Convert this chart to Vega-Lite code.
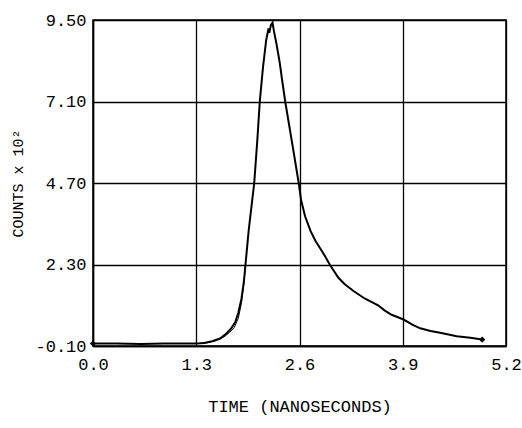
{
  "$schema": "https://vega.github.io/schema/vega-lite/v6.json",
  "autosize": "none",
  "width": 413,
  "height": 326,
  "padding": {"left": 93, "top": 20, "right": 16, "bottom": 82},
  "background": "white",
  "config": {
    "view": {"stroke": "black", "strokeWidth": 1.5},
    "font": "Liberation Mono"
  },
  "data": {
    "values": [
      {"s": "data", "t": 0.0, "v": -0.03, "m": 1},
      {"s": "data", "t": 0.3, "v": -0.03, "m": 0},
      {"s": "data", "t": 0.6, "v": -0.04, "m": 0},
      {"s": "data", "t": 0.9, "v": -0.03, "m": 0},
      {"s": "data", "t": 1.2, "v": -0.03, "m": 0},
      {"s": "data", "t": 1.3, "v": -0.03, "m": 0},
      {"s": "data", "t": 1.4, "v": -0.01, "m": 0},
      {"s": "data", "t": 1.5, "v": 0.04, "m": 0},
      {"s": "data", "t": 1.6, "v": 0.12, "m": 0},
      {"s": "data", "t": 1.68, "v": 0.27, "m": 0},
      {"s": "data", "t": 1.74, "v": 0.42, "m": 0},
      {"s": "data", "t": 1.79, "v": 0.6, "m": 0},
      {"s": "data", "t": 1.83, "v": 0.88, "m": 0},
      {"s": "data", "t": 1.87, "v": 1.3, "m": 0},
      {"s": "data", "t": 1.9, "v": 1.8, "m": 0},
      {"s": "data", "t": 1.92, "v": 2.3, "m": 0},
      {"s": "data", "t": 1.96, "v": 3.3, "m": 0},
      {"s": "data", "t": 2.0, "v": 4.1, "m": 0},
      {"s": "data", "t": 2.03, "v": 4.7, "m": 0},
      {"s": "data", "t": 2.07, "v": 6.0, "m": 0},
      {"s": "data", "t": 2.1, "v": 7.1, "m": 0},
      {"s": "data", "t": 2.14, "v": 8.1, "m": 0},
      {"s": "data", "t": 2.18, "v": 8.9, "m": 0},
      {"s": "data", "t": 2.21, "v": 9.25, "m": 0},
      {"s": "data", "t": 2.22, "v": 9.12, "m": 0},
      {"s": "data", "t": 2.24, "v": 9.35, "m": 0},
      {"s": "data", "t": 2.26, "v": 9.42, "m": 0},
      {"s": "data", "t": 2.28, "v": 9.15, "m": 0},
      {"s": "data", "t": 2.31, "v": 8.8, "m": 0},
      {"s": "data", "t": 2.35, "v": 8.26, "m": 0},
      {"s": "data", "t": 2.38, "v": 7.75, "m": 0},
      {"s": "data", "t": 2.42, "v": 7.1, "m": 0},
      {"s": "data", "t": 2.47, "v": 6.4, "m": 0},
      {"s": "data", "t": 2.52, "v": 5.7, "m": 0},
      {"s": "data", "t": 2.59, "v": 4.7, "m": 0},
      {"s": "data", "t": 2.62, "v": 4.2, "m": 0},
      {"s": "data", "t": 2.67, "v": 3.72, "m": 0},
      {"s": "data", "t": 2.74, "v": 3.28, "m": 0},
      {"s": "data", "t": 2.8, "v": 3.0, "m": 0},
      {"s": "data", "t": 2.86, "v": 2.78, "m": 0},
      {"s": "data", "t": 2.92, "v": 2.55, "m": 0},
      {"s": "data", "t": 2.98, "v": 2.3, "m": 0},
      {"s": "data", "t": 3.09, "v": 1.91, "m": 0},
      {"s": "data", "t": 3.17, "v": 1.72, "m": 0},
      {"s": "data", "t": 3.28, "v": 1.52, "m": 0},
      {"s": "data", "t": 3.42, "v": 1.3, "m": 0},
      {"s": "data", "t": 3.59, "v": 1.1, "m": 0},
      {"s": "data", "t": 3.67, "v": 0.95, "m": 0},
      {"s": "data", "t": 3.76, "v": 0.82, "m": 0},
      {"s": "data", "t": 3.91, "v": 0.68, "m": 0},
      {"s": "data", "t": 4.02, "v": 0.53, "m": 0},
      {"s": "data", "t": 4.12, "v": 0.42, "m": 0},
      {"s": "data", "t": 4.25, "v": 0.34, "m": 0},
      {"s": "data", "t": 4.37, "v": 0.29, "m": 0},
      {"s": "data", "t": 4.58, "v": 0.19, "m": 0},
      {"s": "data", "t": 4.75, "v": 0.14, "m": 0},
      {"s": "data", "t": 4.9, "v": 0.09, "m": 1},
      {"s": "fit", "t": 1.3, "v": -0.03, "m": 0},
      {"s": "fit", "t": 1.45, "v": 0.0, "m": 0},
      {"s": "fit", "t": 1.55, "v": 0.06, "m": 0},
      {"s": "fit", "t": 1.65, "v": 0.17, "m": 0},
      {"s": "fit", "t": 1.72, "v": 0.3, "m": 0},
      {"s": "fit", "t": 1.78, "v": 0.45, "m": 0},
      {"s": "fit", "t": 1.83, "v": 0.72, "m": 0},
      {"s": "fit", "t": 1.87, "v": 1.18, "m": 0},
      {"s": "fit", "t": 1.9, "v": 1.75, "m": 0},
      {"s": "fit", "t": 1.92, "v": 2.3, "m": 0}
    ]
  },
  "encoding": {
    "x": {
      "field": "t",
      "type": "quantitative",
      "scale": {"domain": [0, 5.2], "nice": false, "zero": false},
      "axis": {
        "values": [0, 1.3, 2.6, 3.9, 5.2],
        "format": ".1f",
        "title": "TIME (NANOSECONDS)",
        "titleFont": "Liberation Mono",
        "titleFontSize": 17,
        "titleFontWeight": "normal",
        "titleColor": "black",
        "titlePadding": 26,
        "labelFont": "Liberation Mono",
        "labelFontSize": 17,
        "labelColor": "black",
        "labelPadding": 10,
        "labelFlush": false,
        "labelOverlap": false,
        "tickSize": 0,
        "grid": true,
        "gridColor": "black",
        "gridOpacity": 1,
        "gridWidth": 1.3,
        "domainColor": "black",
        "domainWidth": 1.5
      }
    },
    "y": {
      "field": "v",
      "type": "quantitative",
      "scale": {"domain": [-0.1, 9.5], "nice": false, "zero": false},
      "axis": {
        "values": [-0.1, 2.3, 4.7, 7.1, 9.5],
        "labelExpr": "datum.value < 0 ? '-' + format(-datum.value, '.2f') : format(datum.value, '.2f')",
        "title": "COUNTS x 10²",
        "titleFont": "Liberation Mono",
        "titleFontSize": 15,
        "titleFontWeight": "normal",
        "titleColor": "black",
        "titlePadding": 9,
        "labelFont": "Liberation Mono",
        "labelFontSize": 17,
        "labelColor": "black",
        "labelPadding": 7,
        "labelOverlap": false,
        "tickSize": 0,
        "grid": true,
        "gridColor": "black",
        "gridOpacity": 1,
        "gridWidth": 1.3,
        "domainColor": "black",
        "domainWidth": 1.5
      }
    }
  },
  "layer": [
    {
      "transform": [{"filter": "datum.s == 'data'"}],
      "mark": {"type": "line", "color": "black", "strokeWidth": 2}
    },
    {
      "transform": [{"filter": "datum.s == 'fit'"}],
      "mark": {"type": "line", "color": "black", "strokeWidth": 1}
    },
    {
      "transform": [{"filter": "datum.m == 1"}],
      "mark": {"type": "point", "shape": "diamond", "filled": true, "color": "black", "size": 40, "opacity": 1}
    }
  ]
}
